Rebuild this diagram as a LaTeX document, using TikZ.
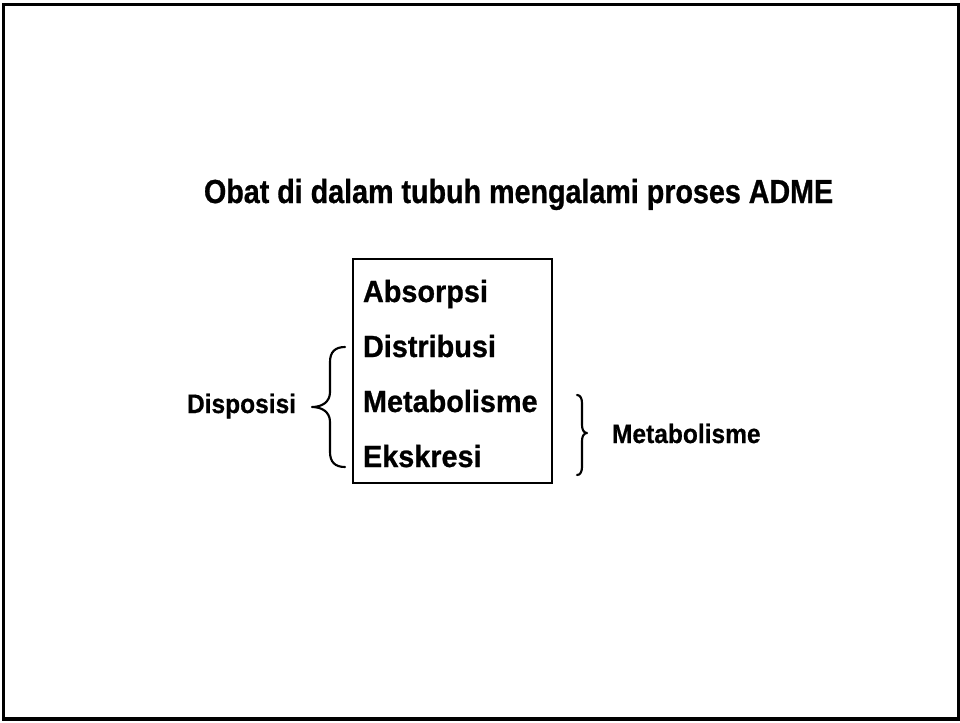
\documentclass[tikz,border=0pt]{standalone}
\usepackage{fontspec}
\setmainfont{Liberation Sans}
\newfontfamily\titlefont{Liberation Sans Bold}[FakeStretch=0.86,FakeBold=0.8]
\newfontfamily\itemfont{Liberation Sans Bold}[FakeStretch=0.94,FakeBold=0.8]
\newfontfamily\labelfont{Liberation Sans Bold}[FakeStretch=0.92,FakeBold=0.6]
\begin{document}
\begin{tikzpicture}[x=0.75pt,y=-0.75pt,
  txt/.style={anchor=base west,inner sep=0pt,outer sep=0pt},
  titletxt/.style={txt,font=\titlefont\fontsize{25pt}{29pt}\selectfont},
  itemtxt/.style={txt,font=\itemfont\fontsize{23pt}{27pt}\selectfont},
  labeltxt/.style={txt,font=\labelfont\fontsize{20pt}{24pt}\selectfont},
  bracepath/.style={line width=1.6pt,line cap=round,line join=round},
  boxstyle/.style={draw,line width=0.8pt,minimum width=149.25pt,minimum height=168pt,inner sep=0pt}]
\useasboundingbox (0,0) rectangle (960,722);
\draw[line width=2.3pt] (3.5,4.2) rectangle (959,719);
\node[titletxt] (title) at (204,203) {Obat di dalam tubuh mengalami proses ADME};
\node[boxstyle] (box) at (452.5,371) {};
\node[itemtxt] (abs) at (363,302) {Absorpsi};
\node[itemtxt] (dis) at (363,357) {Distribusi};
\node[itemtxt] (met) at (363,412) {Metabolisme};
\node[itemtxt] (eks) at (363,467) {Ekskresi};
\node[labeltxt] (disp) at (187,413) {Disposisi};
\node[labeltxt] (metr) at (612,443) {Metabolisme};
\draw[bracepath] (345,347) .. controls (335,347) and (330,352) .. (330,362) -- (330,392)
  .. controls (330,402) and (322,407) .. (312,407)
  .. controls (322,407) and (330,412) .. (330,422) -- (330,452)
  .. controls (330,462) and (335,467) .. (345,467);
\draw[bracepath] (577,395) .. controls (580,395) and (582,398) .. (582,403) -- (582,425)
  .. controls (582,430) and (584,433) .. (587,433)
  .. controls (584,433) and (582,436) .. (582,441) -- (582,467)
  .. controls (582,472) and (580,475) .. (577,475);
\end{tikzpicture}
\end{document}
